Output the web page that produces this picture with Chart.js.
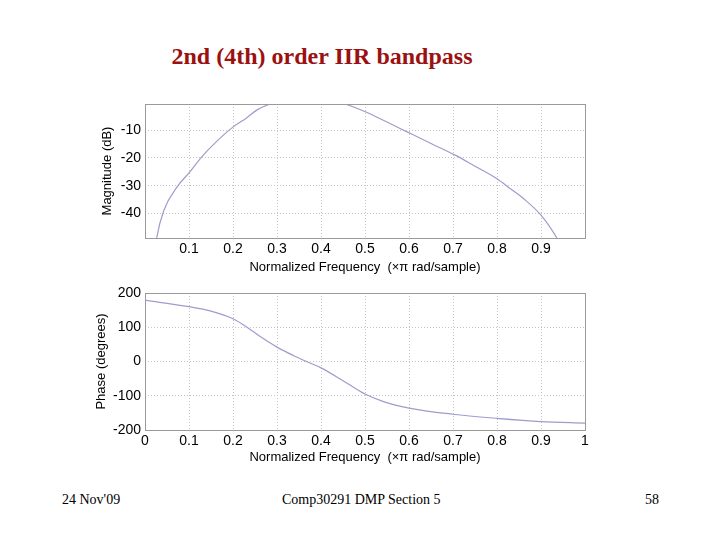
<!DOCTYPE html>
<html>
<head>
<meta charset="utf-8">
<script src="https://cdn.jsdelivr.net/npm/chart.js@4"></script>
<style>
  body { margin: 0; width: 720px; height: 540px; background: #fff; position: relative; overflow: hidden; }
  .txt { position: absolute; font-family: "Liberation Serif", "Times New Roman", serif; white-space: nowrap; }
  #title { left: 0; width: 644px; top: 43px; text-align: center; font-size: 24px; font-weight: bold; color: #9b1111; }
  .foot { top: 492px; font-size: 14px; color: #000; }
  #magWrap { position: absolute; left: 0; top: 95px; width: 720px; height: 185px; }
  #phaseWrap { position: absolute; left: 0; top: 280px; width: 720px; height: 190px; }
</style>
</head>
<body>
<div id="title" class="txt">2nd (4th) order IIR bandpass</div>
<div class="txt foot" style="left:62px">24 Nov'09</div>
<div class="txt foot" style="left:282px">Comp30291 DMP Section 5</div>
<div class="txt foot" style="left:645px">58</div>
<div id="magWrap"><canvas id="magChart"></canvas></div>
<div id="phaseWrap"><canvas id="phaseChart"></canvas></div>
<script>
// magnitude response (dB)
const magFreq = [0.02, 0.0265, 0.043, 0.073, 0.102, 0.129, 0.16, 0.199, 0.23, 0.254, 0.284, 0.32, 0.37, 0.42, 0.455, 0.498, 0.55, 0.598, 0.65, 0.705, 0.75, 0.799, 0.83, 0.86, 0.9, 0.936, 0.95];
const magDb = [-57, -48.8, -38.8, -30.4, -25, -19.6, -14.5, -9, -5.7, -2.8, -0.6, 1, 1.5, 1, -0.6, -3.2, -7.1, -10.8, -14.8, -19, -23, -27.4, -31, -34.6, -40.6, -48.8, -53];

// phase response (degrees)
const phaseFreq = [0, 0.1, 0.148, 0.2, 0.231, 0.261, 0.3, 0.337, 0.367, 0.4, 0.45, 0.5, 0.542, 0.6, 0.7, 0.8, 0.9, 1.0];
const phaseDeg = [179, 160, 148, 125, 101, 73.5, 42, 17.6, 0, -18.6, -56, -95, -117, -136, -154, -166, -175.5, -180];

const magTicks = [-40, -30, -20, -10];
const phaseTicks = [-200, -100, 0, 100, 200];

const lineColor = '#9d9dcb';
const gridColor = '#c4c4c4';
const tickFont = { family: 'Liberation Sans, Arial, sans-serif', size: 14 };
const titleFont = { family: 'Liberation Sans, Arial, sans-serif', size: 13 };
const xTitle = 'Normalized Frequency  (\u00d7\u03c0 rad/sample)';

// MATLAB-style box round the plot area
const boxPlugin = {
    id: 'box',
    afterDraw(chart) {
        const a = chart.chartArea, ctx = chart.ctx;
        ctx.save();
        ctx.strokeStyle = '#9a9a9a';
        ctx.lineWidth = 1;
        ctx.strokeRect(Math.round(a.left) + 0.5, Math.round(a.top) + 0.5,
                       Math.round(a.right - a.left), Math.round(a.bottom - a.top));
        ctx.restore();
    }
};

function toPoints(xs, ys) {
    return xs.map((x, i) => ({ x: x, y: ys[i] }));
}

function makeChart(canvasId, xs, ys, yOpts, hideEnds, pad, xHeight) {
    return new Chart(document.getElementById(canvasId), {
        type: 'line',
        data: {
            datasets: [{
                data: toPoints(xs, ys),
                borderColor: lineColor,
                borderWidth: 1.2,
                pointRadius: 0,
                cubicInterpolationMode: 'monotone',
                fill: false
            }]
        },
        options: {
            responsive: true,
            maintainAspectRatio: false,
            animation: false,
            events: [],
            layout: { padding: pad },
            plugins: { legend: { display: false }, tooltip: { enabled: false } },
            scales: {
                x: {
                    type: 'linear',
                    min: 0,
                    max: 1,
                    afterFit: s => { s.height = xHeight; s.paddingLeft = 0; s.paddingRight = 0; },
                    grid: { color: gridColor, drawTicks: false },
                    border: { display: false, dash: [1, 2] },
                    ticks: {
                        stepSize: 0.1,
                        padding: 3,
                        color: '#000',
                        font: tickFont,
                        maxRotation: 0,
                        callback: v => {
                            const r = Math.round(v * 10) / 10;
                            if (hideEnds && (r === 0 || r === 1)) return '';
                            return r.toString();
                        }
                    },
                    title: {
                        display: true,
                        text: xTitle,
                        color: '#000',
                        font: titleFont,
                        padding: { top: 0, bottom: 5 }
                    }
                },
                y: {
                    type: 'linear',
                    min: yOpts.min,
                    max: yOpts.max,
                    afterBuildTicks: s => { s.ticks = yOpts.ticks.map(v => ({ value: v })); },
                    afterFit: s => { s.width = 55; s.paddingTop = 0; s.paddingBottom = 0; },
                    grid: { color: gridColor, drawTicks: false },
                    border: { display: false, dash: [1, 2] },
                    ticks: { padding: 4, color: '#000', font: tickFont },
                    title: {
                        display: true,
                        text: yOpts.title,
                        color: '#000',
                        font: titleFont,
                        padding: { top: yOpts.titlePad, bottom: 0 }
                    }
                }
            }
        },
        plugins: [boxPlugin]
    });
}

makeChart('magChart', magFreq, magDb,
    { min: -48.8, max: -0.6, ticks: magTicks, title: 'Magnitude (dB)', titlePad: 10 },
    true, { left: 90, right: 135, top: 9, bottom: 0 }, 42);

makeChart('phaseChart', phaseFreq, phaseDeg,
    { min: -200, max: 200, ticks: phaseTicks, title: 'Phase (degrees)', titlePad: 4 },
    false, { left: 90, right: 135, top: 13, bottom: 0 }, 40);
</script>
</body>
</html>
